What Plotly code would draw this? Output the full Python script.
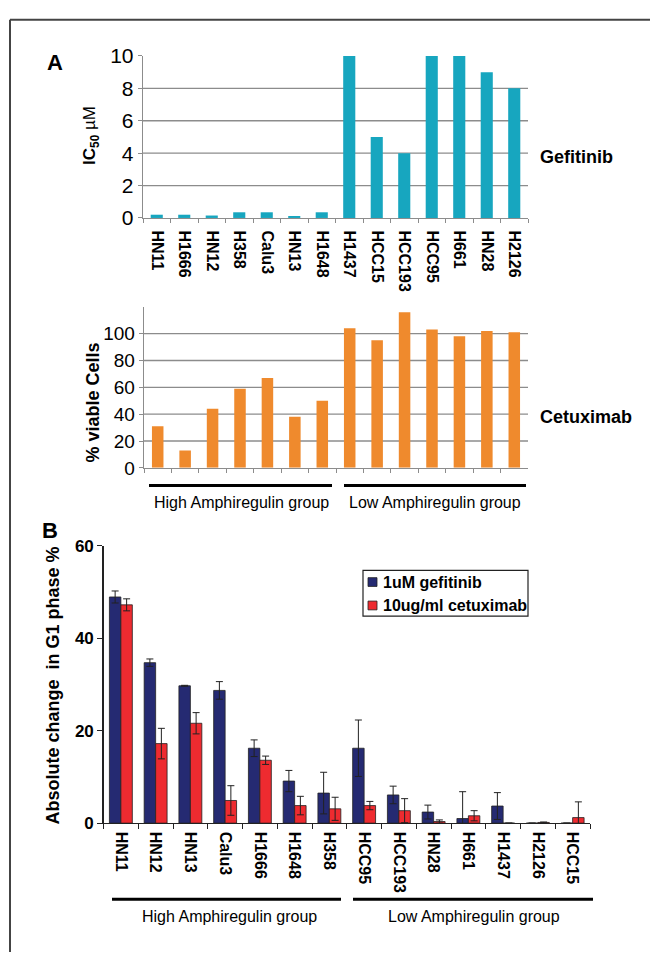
import plotly.graph_objects as go

W, H = 650, 963

# ---------------- data ----------------
cells_a = ["HN11", "H1666", "HN12", "H358", "Calu3", "HN13", "H1648",
           "H1437", "HCC15", "HCC193", "HCC95", "H661", "HN28", "H2126"]
ic50_gefitinib = [0.2, 0.2, 0.15, 0.35, 0.35, 0.12, 0.35,
                  10, 5, 4, 10, 10, 9, 8]
viable_cetuximab = [31, 13, 44, 59, 67, 38, 50,
                    104, 95, 116, 103, 98, 102, 101]

cells_b = ["HN11", "HN12", "HN13", "Calu3", "H1666", "H1648", "H358",
           "HCC95", "HCC193", "HN28", "H661", "H1437", "H2126", "HCC15"]
g1_gefitinib = [48.9, 34.7, 29.7, 28.7, 16.2, 9.1, 6.5,
                16.2, 6.1, 2.4, 1.0, 3.7, 0, 0]
g1_gefitinib_err = [1.3, 0.8, 0.1, 1.9, 1.8, 2.3, 4.5,
                    6.1, 1.9, 1.5, 5.8, 2.9, 0, 0]
g1_cetuximab = [47.2, 17.2, 21.6, 4.9, 13.6, 3.8, 3.1,
                3.8, 2.7, 0.35, 1.6, 0, 0.15, 1.2]
g1_cetuximab_err = [1.3, 3.3, 2.3, 3.2, 0.9, 2.0, 2.5,
                    0.9, 2.6, 0.35, 1.1, 0, 0.1, 3.4]

groups = ["High Amphiregulin group", "Low Amphiregulin group"]
legend_names = ["1uM gefitinib", "10ug/ml cetuximab"]

# ---------------- helpers ----------------
def fx(p):
    return p / W

def fy(p):
    return 1 - p / H

SANS = "Liberation Sans, Arial, Helvetica"
GRID = "#8c8c8c"

TEAL = "#17A6BF"
ORANGE = "#EF8A2D"
NAVY = "#252A72"
RED = "#EE2B30"

fig = go.Figure()

# Panel A top: gefitinib IC50
fig.add_trace(go.Bar(x=cells_a, y=ic50_gefitinib, width=0.44,
                     marker=dict(color=TEAL, line=dict(width=0)),
                     xaxis="x", yaxis="y", showlegend=False))
# Panel A bottom: cetuximab viability
fig.add_trace(go.Bar(x=cells_a, y=viable_cetuximab, width=0.42,
                     marker=dict(color=ORANGE, line=dict(width=0)),
                     xaxis="x2", yaxis="y2", showlegend=False))
# Panel B
fig.add_trace(go.Bar(x=cells_b, y=g1_gefitinib, name=legend_names[0],
                     offset=-0.33, width=0.33,
                     marker=dict(color=NAVY, line=dict(color="#222", width=0.8)),
                     error_y=dict(type="data", array=g1_gefitinib_err, color="#222",
                                  thickness=1, width=3.5),
                     xaxis="x3", yaxis="y3", showlegend=False))
fig.add_trace(go.Bar(x=cells_b, y=g1_cetuximab, name=legend_names[1],
                     offset=0.0, width=0.33,
                     marker=dict(color=RED, line=dict(color="#222", width=0.8)),
                     error_y=dict(type="data", array=g1_cetuximab_err, color="#222",
                                  thickness=1, width=3.5),
                     xaxis="x3", yaxis="y3", showlegend=False))

shapes = []
# gridlines
for v in [2, 4, 6, 8]:
    shapes.append(dict(type="line", xref="x domain", yref="y", x0=0, x1=1, y0=v, y1=v,
                       line=dict(color=GRID, width=1.3), layer="below"))
for v in [20, 40, 60, 80, 100]:
    shapes.append(dict(type="line", xref="x2 domain", yref="y2", x0=0, x1=1, y0=v, y1=v,
                       line=dict(color=GRID, width=1.3), layer="below"))

# frame (left and top edges)
shapes.append(dict(type="line", xref="paper", yref="paper", x0=fx(10), x1=1.0,
                   y0=fy(8), y1=fy(8), line=dict(color="#444", width=2)))
shapes.append(dict(type="line", xref="paper", yref="paper", x0=fx(10), x1=fx(10),
                   y0=fy(8), y1=0, line=dict(color="#444", width=2)))

# group lines
for (x0, x1, yy) in [(149, 332, 485), (344, 526, 485), (112, 341, 909), (353, 593, 909)]:
    shapes.append(dict(type="line", xref="paper", yref="paper", x0=fx(x0), x1=fx(x1),
                       y0=fy(yy), y1=fy(yy), line=dict(color="black", width=3)))

# legend box
shapes.append(dict(type="rect", xref="paper", yref="paper", x0=fx(363), x1=fx(528),
                   y0=fy(619), y1=fy(572), line=dict(color="#222", width=1.2),
                   fillcolor="white"))
for (yc, col) in [(584, NAVY), (608, RED)]:
    shapes.append(dict(type="rect", xref="paper", yref="paper", x0=fx(368), x1=fx(377),
                       y0=fy(yc + 4.5), y1=fy(yc - 4.5), line=dict(color="#222", width=0.8),
                       fillcolor=col))

ann = []
def text(x, y, s, size, bold=False, xanchor="center", angle=0):
    ann.append(dict(x=fx(x), y=fy(y), xref="paper", yref="paper", text=s, showarrow=False,
                    xanchor=xanchor, yanchor="middle", textangle=angle,
                    font=dict(size=size, family=SANS, color="black",
                              weight="bold" if bold else "normal")))

text(55, 52, "A", 22, bold=True)
text(50, 531, "B", 22, bold=True)
text(91, 127, "<b>IC<sub>50</sub></b> µM", 17, angle=-90)
text(93, 400, "% viable Cells", 18, bold=True, angle=-90)
text(53, 690, "Absolute change  in G1 phase %", 18, bold=True, angle=-90)
text(538, 149, "Gefitinib", 18, bold=True, xanchor="left")
text(538, 415, "Cetuximab", 18, bold=True, xanchor="left")
text(242, 502, groups[0], 16)
text(435, 502, groups[1], 16)
text(229, 927, groups[0], 16)
text(474, 927, groups[1], 16)
text(381, 584, legend_names[0], 16, bold=True, xanchor="left")
text(381, 608, legend_names[1], 16, bold=True, xanchor="left")

fig.update_layout(
    width=W, height=H, margin=dict(l=0, r=0, t=0, b=0),
    paper_bgcolor="white", plot_bgcolor="rgba(0,0,0,0)",
    barmode="group", showlegend=False, hovermode=False,
    shapes=shapes, annotations=ann,
    xaxis=dict(domain=[fx(143), fx(528)], anchor="y", type="category",
               categoryorder="array", categoryarray=cells_a,
               showline=True, linecolor=GRID, linewidth=1.3,
               ticks="outside", tickson="boundaries", ticklen=4, tickcolor=GRID,
               tickangle=90, ticklabelstandoff=8,
               tickfont=dict(size=16, family=SANS, color="black", weight="bold"),
               showgrid=False, zeroline=False),
    yaxis=dict(domain=[fy(211), fy(45)], anchor="x", range=[0, 10],
               tickvals=[0, 2, 4, 6, 8, 10], showgrid=False, zeroline=False,
               showline=True, linecolor=GRID, linewidth=1.3,
               ticks="outside", ticklen=4, tickcolor=GRID,
               tickfont=dict(size=21, family=SANS, color="black")),
    xaxis2=dict(domain=[fx(144), fx(528)], anchor="y2", type="category",
                categoryorder="array", categoryarray=cells_a,
                showline=True, linecolor=GRID, linewidth=1.3,
                ticks="outside", tickson="boundaries", ticklen=4, tickcolor=GRID,
                showticklabels=False, showgrid=False, zeroline=False),
    yaxis2=dict(domain=[fy(467), fy(302)], anchor="x2", range=[0, 120],
                tickvals=[0, 20, 40, 60, 80, 100], showgrid=False, zeroline=False,
                showline=True, linecolor=GRID, linewidth=1.3,
                ticks="outside", ticklen=4, tickcolor=GRID,
                tickfont=dict(size=19, family=SANS, color="black")),
    xaxis3=dict(domain=[fx(103.5), fx(590)], anchor="y3", type="category",
                categoryorder="array", categoryarray=cells_b,
                showline=True, linecolor="#222", linewidth=1.3,
                ticks="outside", tickson="boundaries", ticklen=5, tickcolor="#222",
                tickangle=90, ticklabelstandoff=4,
                tickfont=dict(size=16, family=SANS, color="black", weight="bold"),
                showgrid=False, zeroline=False),
    yaxis3=dict(domain=[fy(831), fy(546.7)], anchor="x3", range=[0, 60],
                tickvals=[0, 20, 40, 60], showgrid=False, zeroline=False,
                showline=True, linecolor="#222", linewidth=1.3,
                ticks="outside", ticklen=5, tickcolor="#222",
                tickfont=dict(size=17, family=SANS, color="black", weight="bold")),
)

fig.write_html("out.html", config={"displayModeBar": False, "staticPlot": True},
               post_script="document.body.style.margin='0';document.body.style.overflow='hidden';")
